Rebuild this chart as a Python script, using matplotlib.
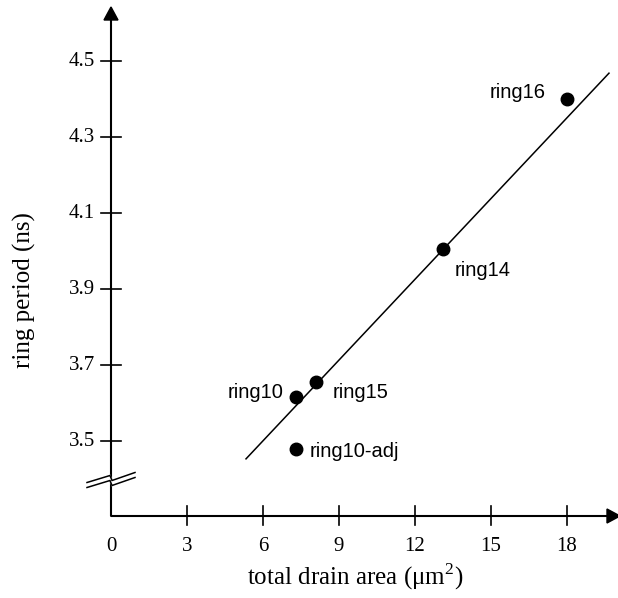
import matplotlib.pyplot as plt
import numpy as np
from matplotlib.patches import Polygon

plt.rcParams['mathtext.fontset'] = 'custom'
plt.rcParams['mathtext.rm'] = 'Liberation Serif'

# data
names = ['ring16', 'ring14', 'ring15', 'ring10', 'ring10-adj']
area = [18.0, 13.1, 8.1, 7.3, 7.3]
period = [4.40, 4.005, 3.655, 3.616, 3.479]
fit_x = [5.33, 19.66]
fit_y = [3.453, 4.468]
xticks = [0, 3, 6, 9, 12, 15, 18]
yticks = [3.5, 3.7, 3.9, 4.1, 4.3, 4.5]

# pixel scale of the picture
sx = 25.33   # px per x unit
sy = 380.0   # px per y unit

fig = plt.figure(figsize=(6.18, 5.98), dpi=100)
ax = fig.add_axes([0, 0, 1, 1])
ax.set_xlim(-111 / sx, (618 - 111) / sx)
ax.set_ylim(4.5 - (598 - 61) / sy, 4.5 + 61 / sy)
ax.axis('off')

y0 = 4.5 - 455 / sy      # where x axis sits
ytop = 4.5 + 54 / sy     # top arrow tip
xend = (620 - 111) / sx  # right arrow tip
lw = 1.5

# axes lines
ax.plot([0, 0], [y0, ytop - 12 / sy], color='k', lw=lw, solid_capstyle='butt')
ax.plot([0, xend - 12 / sx], [y0, y0], color='k', lw=lw, solid_capstyle='butt')
ax.add_patch(Polygon([[0, ytop], [-7 / sx, ytop - 13 / sy], [7 / sx, ytop - 13 / sy]],
                     closed=True, color='k'))
ax.add_patch(Polygon([[xend, y0], [xend - 13 / sx, y0 + 7 / sy], [xend - 13 / sx, y0 - 7 / sy]],
                     closed=True, color='k'))

# ticks
for t in xticks:
    if t == 0:
        ax.plot([t, t], [y0, y0 + 10 / sy], color='k', lw=1.2)
    else:
        ax.plot([t, t], [y0 - 9 / sy, y0 + 10 / sy], color='k', lw=1.2)
    ax.text(t, y0 - 21 / sy, str(t), ha='center', va='top',
            fontsize=15, family='Liberation Serif')
for t in yticks:
    ax.plot([-10 / sx, 10 / sx], [t, t], color='k', lw=1.2)
    ax.text(-16 / sx, t, '%.1f' % t, ha='right', va='center',
            fontsize=15, family='Liberation Serif')

# axis break
yb = 4.5 - (480 - 61) / sy
px = np.array([-24, -1, 1, 24])
py = np.array([-5, 2, -3, 5])
gap = 5
top = np.column_stack([px / sx, yb + (py + gap / 2) / sy])
bot = np.column_stack([px / sx, yb + (py - gap / 2) / sy])
ax.add_patch(Polygon(np.vstack([top, bot[::-1]]), closed=True, color='white', zorder=3))
ax.plot(top[:, 0], top[:, 1], color='k', lw=1.1, zorder=4)
ax.plot(bot[:, 0], bot[:, 1], color='k', lw=1.1, zorder=4)

# fit line and points
ax.plot(fit_x, fit_y, color='k', lw=1.1)
ax.plot(area, period, 'o', color='k', markersize=9, zorder=5)

# point labels
lab_off = {'ring16': (-21, 7, 'right'), 'ring14': (12, -21, 'left'),
           'ring15': (16, -10, 'left'), 'ring10': (-12, 4, 'right'),
           'ring10-adj': (14, -3, 'left')}
for n, xv, yv in zip(names, area, period):
    dx, dy, ha = lab_off[n]
    ax.text(xv + dx / sx, yv + dy / sy, n, ha=ha, va='center',
            fontsize=14.5, family='Liberation Sans')

ax.text((355 - 111) / sx, 4.5 - (577 - 61) / sy, 'total drain area (μm$^2$)',
        ha='center', va='center', fontsize=18, family='Liberation Serif')
ax.text((24 - 111) / sx, 4.5 - (290 - 61) / sy, 'ring period (ns)', rotation=90,
        ha='center', va='center', fontsize=18, family='Liberation Serif')

plt.savefig('out.png', dpi=100)
